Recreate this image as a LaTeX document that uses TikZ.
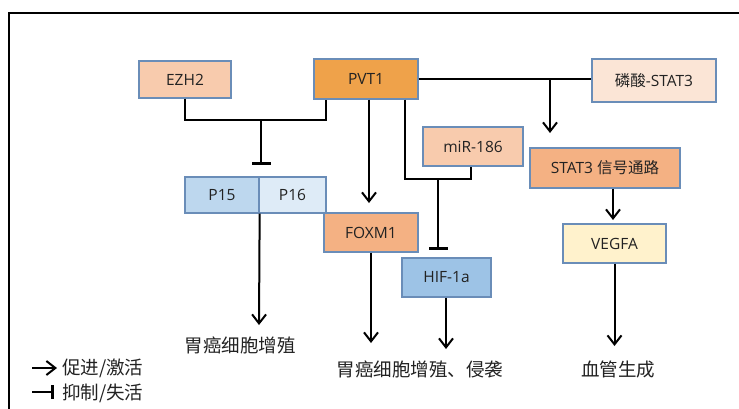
\documentclass[tikz,border=0pt]{standalone}
\usepackage{fontspec}
\setmainfont{Open Sans}
\newfontfamily\cjk{Noto Sans CJK SC}
\usetikzlibrary{arrows.meta}
\definecolor{boxline}{HTML}{6A8DB8}
\definecolor{txt}{HTML}{222222}
\definecolor{cPeach}{HTML}{F8CBAD}
\definecolor{cOrange}{HTML}{EFA24A}
\definecolor{cLight}{HTML}{FBE5D6}
\definecolor{cSalmon}{HTML}{F4B183}
\definecolor{cYellow}{HTML}{FFF2CC}
\definecolor{cBlueA}{HTML}{BDD7EE}
\definecolor{cBlueB}{HTML}{DEEBF7}
\definecolor{cBlueC}{HTML}{9DC3E6}
\begin{document}
\begin{tikzpicture}[x=1pt,y=-1pt,
  box/.style={draw=boxline, line width=1.3pt, inner sep=0pt, text=txt,
    font=\fontsize{15.5}{18}\selectfont},
  link/.style={line width=2pt, draw=black},
  act/.style={link, -{Straight Barb[length=9pt,width=14pt,line width=2pt]}},
  inh/.style={link, -{Bar[width=19pt,line width=3.5pt]}},
  lab/.style={font=\cjk\fontsize{18.5}{20}\selectfont, text=txt, inner sep=0pt}]
\useasboundingbox (0,0) rectangle (739,408);
\fill[white] (0,0) rectangle (739,408);
\draw[line width=2.5pt] (9,410) -- (9,13) -- (741,13);

% boxes
\node[box, fill=cPeach, minimum width=92pt, minimum height=37pt] (EZH2) at (185,79.5) {EZH2};
\node[box, fill=cOrange, minimum width=104pt, minimum height=40pt] (PVT1) at (366,79) {PVT1};
\node[box, fill=cLight, minimum width=124pt, minimum height=43pt] (PSTAT) at (654,80.5) {{\cjk 磷酸}-STAT3};
\node[box, fill=cPeach, minimum width=100pt, minimum height=39pt] (MIR) at (473,146.5) {miR-186};
\node[box, fill=cSalmon, minimum width=150pt, minimum height=40pt] (STAT) at (605,168) {STAT3 {\cjk 信号通路}};
\node[box, fill=cBlueA, minimum width=74pt, minimum height=36pt] (P15) at (222,195) {P15};
\node[box, fill=cBlueB, minimum width=67pt, minimum height=36pt] (P16) at (292.5,195) {P16};
\node[box, fill=cSalmon, minimum width=94pt, minimum height=39pt] (FOXM1) at (371,232.5) {FOXM1};
\node[box, fill=cBlueC, minimum width=89pt, minimum height=39pt] (HIF) at (446.5,277.5) {HIF-1a};
\node[box, fill=cYellow, minimum width=103pt, minimum height=39pt] (VEGFA) at (614.5,243.5) {VEGFA};

% EZH2 + PVT1 -| P15/P16
\coordinate (e1) at (185,120);
\coordinate (p1) at (326,120);
\coordinate (j1) at (261,120);
\coordinate (b1) at (261,165);
\draw[link] (EZH2.south) -- (e1) -- (p1) -- (p1 |- PVT1.south);
\draw[inh] (j1) -- (b1);

% PVT1 -> FOXM1
\coordinate (f1) at (369,203);
\draw[act] (PVT1.south -| f1) -- (f1);

% PVT1 + miR-186 -| HIF-1a
\coordinate (m1) at (405,179);
\coordinate (m2) at (471,179);
\coordinate (j2) at (438,179);
\coordinate (b2) at (438,250);
\draw[link] (PVT1.south -| m1) -- (m1) -- (m2) -- (m2 |- MIR.south);
\draw[inh] (j2) -- (b2);

% PVT1 + pSTAT3 -> STAT3
\coordinate (j3) at (550,79.3);
\coordinate (s1) at (550,133);
\draw[link] (PVT1.east |- j3) -- (PSTAT.west |- j3);
\draw[act] (j3) -- (s1);

% STAT3 -> VEGFA
\coordinate (v1) at (613,220);
\draw[act] (STAT.south -| v1) -- (v1);

% outcomes
\coordinate (g1) at (259,325);
\coordinate (g2) at (371,343);
\coordinate (g3) at (446,349);
\coordinate (g4) at (614.5,346);
\draw[act] (P15.south east) -- (g1);
\draw[act] (FOXM1.south) -- (g2);
\draw[act] (HIF.south -| g3) -- (g3);
\draw[act] (VEGFA.south) -- (g4);

\node[lab] (L1) at (240,345) {胃癌细胞增殖};
\node[lab] (L2) at (420,369) {胃癌细胞增殖、侵袭};
\node[lab] (L3) at (618,369) {血管生成};

% legend
\coordinate (la1) at (32,368);
\coordinate (la2) at (57,368);
\draw[act] (la1) -- (la2);
\node[lab, anchor=west] (T1) at (62,368) {促进/激活};
\coordinate (lb1) at (32,392);
\coordinate (lb2) at (54,392);
\draw[link, -{Bar[width=14pt,line width=3pt]}] (lb1) -- (lb2);
\node[lab, anchor=west] (T2) at (62,393) {抑制/失活};
\end{tikzpicture}
\end{document}
